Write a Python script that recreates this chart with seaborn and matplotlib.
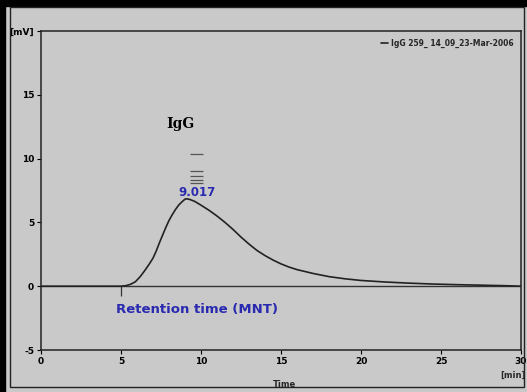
import matplotlib
matplotlib.use("Agg")
import matplotlib.pyplot as plt
from matplotlib.patches import Rectangle
import seaborn as sns
import pandas as pd

# ---- data ----
time_min = [0, 4.8, 5.0, 5.3, 5.6, 5.9, 6.2, 6.5, 6.8, 7.0, 7.2, 7.4, 7.6, 7.8,
            8.0, 8.2, 8.4, 8.6, 8.8, 9.0, 9.1, 9.3, 9.6, 10.0, 10.5, 11.0, 11.5,
            12.0, 12.5, 13.0, 13.5, 14.0, 14.5, 15.0, 15.5, 16.0, 17.0, 18.0,
            19.0, 20.0, 21.5, 23.0, 24.5, 26.0, 27.5, 29.0, 30.0]
signal_mv = [0, 0, 0.0, 0.04, 0.15, 0.35, 0.75, 1.25, 1.8, 2.2, 2.75, 3.4, 4.0, 4.6,
             5.15, 5.6, 6.0, 6.35, 6.6, 6.82, 6.85, 6.8, 6.65, 6.35, 5.95, 5.5, 5.0,
             4.45, 3.85, 3.3, 2.8, 2.4, 2.05, 1.75, 1.5, 1.3, 1.0, 0.75,
             0.58, 0.45, 0.33, 0.24, 0.17, 0.12, 0.08, 0.04, 0.0]
series_label = "IgG 259_ 14_09_23-Mar-2006"
peak_time_label = "9.017"
marker_levels = [10.35, 9.0, 8.6, 8.35, 8.05]
x_ticks = [0, 5, 10, 15, 20, 25, 30]
x_tick_labels = ["0", "5", "10", "15", "20", "25", "30"]
y_ticks = [-5, 0, 5, 10, 15, 20]
y_tick_labels = ["-5", "0", "5", "10", "15", "[mV]"]

df = pd.DataFrame({"Time": time_min, "Signal": signal_mv})

sns.set_style("white")
small_font = ["Liberation Sans Narrow", "DejaVu Sans"]
plt.rcParams["font.family"] = small_font

BG = "#c9c9c9"
fig = plt.figure(figsize=(5.27, 3.92), dpi=100, facecolor=BG)
ax = fig.add_axes([41/527, 1-350/392, (521-41)/527, (350-31)/392])
ax.set_facecolor(BG)

# baseline
ax.axhline(0, color="#333333", lw=1.0, zorder=1)
sns.lineplot(data=df, x="Time", y="Signal", ax=ax, color="#222222", lw=1.2,
             label=series_label, zorder=3)

ax.set_xlim(0, 30)
ax.set_ylim(-5, 20)
ax.set_xticks(x_ticks)
ax.set_xticklabels(x_tick_labels)
ax.set_yticks(y_ticks)
ax.set_yticklabels(y_tick_labels)
for lab in ax.get_xticklabels() + ax.get_yticklabels():
    lab.set_fontweight("bold")
    lab.set_fontsize(6.5)
ax.tick_params(axis="both", direction="out", length=3, width=0.8, pad=2,
               colors="black", left=True, bottom=True)
for s in ax.spines.values():
    s.set_color("#222222")
    s.set_linewidth(1.1)

ax.set_xlabel("Time", fontsize=6, fontweight="bold")
ax.xaxis.set_label_coords(15.2/30, -0.095)
ax.set_ylabel("")
ax.text(30.3, -7.0, "[min]", ha="right", va="center", fontsize=6, fontweight="bold")

# retention-time marker tick at start
ax.vlines(5, -0.8, 0, color="#333333", lw=0.9)

# peak markers
ax.hlines(marker_levels, 9.3, 10.1, color="#555555", lw=0.9)
ax.text(9.75, 7.35, peak_time_label, ha="center", va="center", fontsize=8.5,
        fontweight="bold", color="#2a2ab0", family=["DejaVu Sans"])
ax.text(8.7, 12.7, "IgG", ha="center", va="center", fontsize=10,
        fontweight="bold", color="black", family=["DejaVu Serif"])
ax.text(9.75, -1.8, "Retention time (MNT)", ha="center", va="center", fontsize=9.5,
        fontweight="bold", color="#2a2ab0", family=["DejaVu Sans"])

leg = ax.legend(loc="upper right", frameon=False, fontsize=5.5, handlelength=1.0,
                handletextpad=0.3, borderaxespad=0.6)
for t in leg.get_texts():
    t.set_fontweight("bold")

# scan-like frame
fig.add_artist(Rectangle((0, 1-6/392), 1, 6/392, transform=fig.transFigure,
                         color="black", zorder=10))
fig.add_artist(Rectangle((0, 0), 5/527, 1, transform=fig.transFigure,
                         color="black", zorder=10))
fig.add_artist(Rectangle((10/527, 1-387/392), (524-10)/527, (387-7)/392,
                         transform=fig.transFigure, fill=False,
                         edgecolor="#222222", lw=1.0, zorder=10))

fig.savefig("out.png", dpi=100, facecolor=BG)
